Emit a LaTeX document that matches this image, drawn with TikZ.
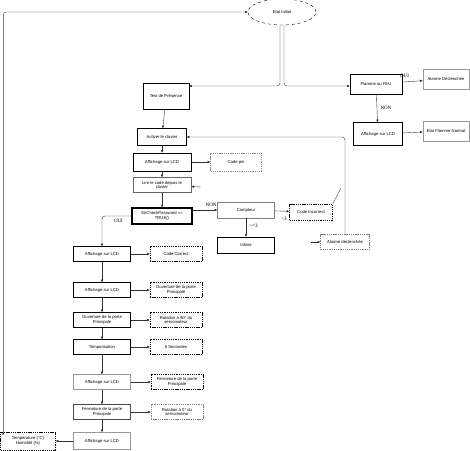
\documentclass[tikz,border=0pt]{standalone}
\usepackage{fontspec}
\setmainfont{Liberation Serif}
\setsansfont{Liberation Sans}
\usepackage{tikz}
\usetikzlibrary{shapes.geometric, positioning, arrows.meta}

\newcommand{\petit}{\sffamily\fontsize{4.2}{4.8}\selectfont}
\newcommand{\choix}{\rmfamily\fontsize{5}{5.5}\selectfont}

\begin{document}
\begin{tikzpicture}[x=1pt, y=-1pt, on grid, auto,
        >={Latex[length=2.6pt,width=2.4pt]},
        etape/.style={draw, line width=0.4pt, minimum width=57pt, minimum height=15pt,
            inner sep=0.5pt, align=center, font=\petit},
        note/.style={etape, dashed, dash pattern=on 1.3pt off 0.9pt, minimum width=52pt},
        fleche/.style={->, line width=0.4pt, draw=black!80}]
    \useasboundingbox (0,0) rectangle (470,450);

    % haut du diagramme
    \node[ellipse, draw, dashed, line width=0.4pt, minimum width=68pt, minimum height=26pt,
        font=\petit] (init) at (282,12) {Etat Initial};
    \coordinate (split) at (290,86);
    \node[etape, minimum width=46pt, minimum height=26pt] (test) at (166,96) {Test de Présence};
    \node[etape, minimum width=52pt, minimum height=20pt] (flamme) at (376,84) {Flamme ou FEU};
    \node[etape, minimum width=46pt, minimum height=20pt, draw=black!40] (alarmeA) at (446,79) {Alarme Déclenchée};
    \node[etape, minimum width=49pt, minimum height=23pt] (affMA) at (378,134) {Affichage sur LCD};
    \node[etape, minimum width=46pt, minimum height=20pt, draw=black!40] (normal) at (446,131) {Etat Flamme Normal};

    % saisie du code
    \node[etape, minimum width=49pt, minimum height=17pt] (clavier) at (162,137) {Activer le clavier};
    \node[etape, minimum width=58pt, minimum height=18pt] (aff1) [below=25pt of clavier] {Affichage sur LCD};
    \node[note, minimum width=51pt, minimum height=18pt, draw=black!45] (codepin) [right=74pt of aff1] {Code pin};
    \node[etape, minimum width=58pt, draw=black!60] (lire) [below=23pt of aff1] {Lire le code depuis le\\clavier};
    \node[etape, minimum width=60pt, minimum height=16pt, line width=1.2pt] (check) [below=31pt of lire] {StrCheckPassword ==\\TRUE()};
    \node[etape, minimum height=16pt, draw=black!50] (compteur) at (246,210) {Compteur};
    \node[note, minimum width=43pt, minimum height=16pt] (incorrect) at (311,212) {Code Incorrect};
    \node[etape, minimum height=16pt] (infini) [below=35pt of compteur] {Infinie};
    \node[note, minimum width=49pt, draw=black!50] (alarmeB) at (345,242) {Alarme déclenchée};
    \node[font=\choix, inner sep=0pt] (moins) at (284,219) {<3};
    \coordinate (lireIn) at (201,187);
    \coordinate (alIn) at (311,242);
    \coordinate (incUp) at (341,188);

    % colonne de gauche
    \node[etape] (aff2) at (102,254) {Affichage sur LCD};
    \node[note] (correct) [right=74pt of aff2] {Code Correct};
    \node[etape] (aff3) [below=36pt of aff2] {Affichage sur LCD};
    \node[note] (ouvR) [right=74pt of aff3] {Ouverture de la porte\\Principale};
    \node[etape] (ouvL) [below=30pt of aff3] {Ouverture de la porte\\Principale};
    \node[note] (rot90) [right=74pt of ouvL] {Rotation à 90° du\\servomoteur};
    \node[etape] (tempo) [below=27pt of ouvL] {Temporisation};
    \node[note] (sec) [right=74pt of tempo] {6 Secondes};
    \node[etape, draw=black!40] (aff4) [below=35pt of tempo] {Affichage sur LCD};
    \node[note] (fermR) [right=75pt of aff4] {Fermeture de la porte\\Principale};
    \node[etape, draw=black!70] (fermL) [below=30pt of aff4] {Fermeture de la porte\\Principale};
    \node[note, draw=black!50] (rot0) [right=75pt of fermL] {Rotation à 0° du\\servomoteur};
    \node[etape, minimum height=17pt, draw=black!40] (aff5) [below=29pt of fermL] {Affichage sur LCD};
    \node[note, minimum width=55pt, minimum height=18pt] (temp) at (28,441) {Temperature (°C)\\Humidité (\%)};

    \path[fleche, rounded corners=3pt]
    ([xshift=-2pt]init.south) edge [to path={|- (\tikztotarget) \tikztonodes}] (test.east |- split)
    ([xshift=2pt]init.south) edge [to path={|- (\tikztotarget) \tikztonodes}] (flamme.west |- split)
    (flamme) edge node {\choix OUI} (alarmeA)
    (flamme) edge node {\choix NON} (affMA)
    (affMA) edge (normal)
    (test) edge (clavier)
    (clavier) edge (aff1)
    (aff1) edge (codepin)
    (aff1) edge (lire)
    (lireIn) edge (lire)
    (lire) edge (check)
    (check.east |- compteur.west) edge node[pos=0.75] {\choix NON} (compteur.west)
    (compteur) edge (incorrect)
    (compteur) edge node[pos=0.4] {\choix >=3} (infini)
    (alIn) edge (alarmeB)
    (alarmeB.north) edge [to path={|- (\tikztotarget) \tikztonodes}] (clavier.east)
    (check.west) edge [to path={-| (\tikztotarget) \tikztonodes}] node[below, pos=0.22] {\choix OUI} (aff2.north)
    (aff2) edge (correct)
    (aff2) edge (aff3)
    (aff3) edge (ouvR)
    (aff3) edge (ouvL)
    (ouvL) edge (rot90)
    (ouvL) edge (tempo)
    (tempo) edge (sec)
    (tempo) edge (aff4)
    (aff4) edge (fermR)
    (aff4) edge (fermL)
    (fermL) edge (rot0)
    (fermL) edge (aff5)
    (aff5) edge (temp)
    ([xshift=3pt]temp.north west) edge [to path={|- (\tikztotarget) \tikztonodes}] (init.west);
    \draw[line width=0.4pt, draw=black!70] (incorrect.north east) -- (incUp);
\end{tikzpicture}
\end{document}
